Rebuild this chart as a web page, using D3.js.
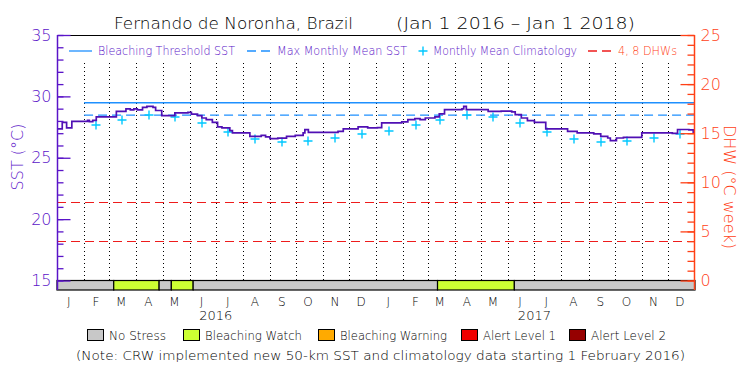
<!DOCTYPE html>
<html>
<head>
<meta charset="utf-8">
<script src="https://cdn.jsdelivr.net/npm/d3@7"></script>
<style>
body { margin: 0; background: #fff; }
svg { display: block; font-family: "DejaVu Sans", sans-serif; }
svg text { font-weight: 200; }
</style>
</head>
<body>
<svg id="chart" width="750" height="375"></svg>
<script>
// daily SST (at each visible step)
var sstDates = ["2016-01-01","2016-01-05","2016-01-07","2016-01-09","2016-01-12","2016-01-18","2016-02-02","2016-02-05","2016-02-07","2016-02-11","2016-02-15","2016-03-06","2016-03-09","2016-03-20","2016-03-25","2016-03-29","2016-04-02","2016-04-08","2016-04-13","2016-04-20","2016-04-23","2016-04-30","2016-05-09","2016-05-15","2016-05-30","2016-06-03","2016-06-10","2016-06-15","2016-06-20","2016-06-27","2016-07-03","2016-07-08","2016-07-15","2016-07-17","2016-07-20","2016-08-06","2016-08-09","2016-08-18","2016-08-22","2016-08-27","2016-09-01","2016-09-10","2016-09-20","2016-09-30","2016-10-09","2016-10-11","2016-10-15","2016-11-11","2016-11-18","2016-11-24","2016-12-11","2016-12-22","2016-12-30","2017-01-02","2017-01-07","2017-01-30","2017-02-06","2017-02-14","2017-02-20","2017-02-26","2017-03-09","2017-03-14","2017-03-20","2017-04-04","2017-04-09","2017-04-11","2017-04-14","2017-05-05","2017-05-09","2017-05-24","2017-06-05","2017-06-09","2017-06-16","2017-06-23","2017-07-01","2017-07-09","2017-07-14","2017-07-31","2017-08-08","2017-08-19","2017-09-07","2017-09-15","2017-09-23","2017-09-26","2017-10-03","2017-10-11","2017-10-28","2017-11-01","2017-12-02","2017-12-06","2017-12-12","2017-12-25","2017-12-30","2018-01-01"];
var sstValues = [27.35,27.35,27.89,27.89,27.43,27.97,27.97,28.05,27.95,28.05,28.33,28.33,28.78,28.98,28.9,28.98,28.9,29.1,29.19,29.1,28.85,28.43,28.43,28.65,28.7,28.55,28.43,28.24,28.1,27.89,27.51,27.43,27.43,27.21,27.02,27.02,26.74,26.74,26.83,26.7,26.56,26.6,26.74,26.83,27.02,27.29,27.07,27.07,27.15,27.35,27.51,27.43,27.43,27.45,27.84,27.92,28.1,28.19,28.1,28.24,28.33,28.57,28.92,28.92,28.98,29.19,28.92,28.92,28.78,28.8,28.73,28.51,28.24,28.02,27.89,27.89,27.35,27.35,27.15,27.02,26.94,26.74,26.61,26.4,26.61,26.66,26.66,27.02,27.02,26.98,27.3,27.27,27.07,27.07];

// monthly mean climatology, Jan..Dec
var climMonths = ["J","F","M","A","M","J","J","A","S","O","N","D"];
var climValues = [27.2,27.67,28.09,28.51,28.33,27.8,27.08,26.53,26.28,26.36,26.61,26.96];
var climStart = "2016-02-01";

var mmm = 28.48;
var threshold = 29.48;
var dhwLevels = [4, 8];
var newDataStart = "2016-02-01";

// bleaching alert area periods
var alertStart = ["2016-01-01","2016-03-06","2016-04-27","2016-05-11","2016-06-05","2017-03-12","2017-06-08"];
var alertEnd   = ["2016-03-06","2016-04-27","2016-05-11","2016-06-05","2017-03-12","2017-06-08","2018-01-01"];
var alertLevel = [0,1,0,1,0,1,0];

var legendNames = ["No Stress","Bleaching Watch","Bleaching Warning","Alert Level 1","Alert Level 2"];
var legendColors = ["#c8c8c8","#ccff33","#ffaa00","#f00000","#960000"];
var years = [2016, 2017];

var parse = d3.utcParse("%Y-%m-%d");
var svg = d3.select("#chart");

var purple = "#5a14c8",
	lineColor = "#5010b4",
	orange = "#ff4016",
	blue = "#1e90ff",
	cyan = "#00c8ff";

var x = d3.scaleUtc()
	.domain([Date.UTC(2016, 0, 1), Date.UTC(2018, 0, 1)])
	.range([57, 695]);
var y = d3.scaleLinear().domain([15, 35]).range([280.5, 35]);
var yDhw = d3.scaleLinear().domain([0, 25]).range([280.5, 35]);

// month dotted lines
var monthStarts = d3.utcMonth.range(Date.UTC(2016, 1, 1), Date.UTC(2018, 0, 1));
svg.append("g")
	.selectAll("line")
	.data(monthStarts)
	.enter()
	.append("line")
	.attr("x1", function(d) { return Math.round(x(d)) + 0.5; })
	.attr("x2", function(d) { return Math.round(x(d)) + 0.5; })
	.attr("y1", 63)
	.attr("y2", 280)
	.attr("stroke", "#000")
	.attr("stroke-dasharray", "1,3");

// DHW reference lines
svg.append("g")
	.selectAll("line")
	.data(dhwLevels)
	.enter()
	.append("line")
	.attr("x1", 57)
	.attr("x2", 695)
	.attr("y1", function(d) { return Math.round(yDhw(d)) + 0.5; })
	.attr("y2", function(d) { return Math.round(yDhw(d)) + 0.5; })
	.attr("stroke", "#ee1c1c")
	.attr("stroke-dasharray", "9,5");

// threshold and MMM
svg.append("line")
	.attr("x1", x(parse(newDataStart))).attr("x2", 695)
	.attr("y1", y(threshold)).attr("y2", y(threshold))
	.attr("stroke", blue).attr("stroke-width", 1.3);
svg.append("line")
	.attr("x1", x(parse(newDataStart))).attr("x2", 695)
	.attr("y1", y(mmm)).attr("y2", y(mmm))
	.attr("stroke", blue).attr("stroke-width", 1.3)
	.attr("stroke-dasharray", "9,5");

// climatology crosses at mid-month
var climData = [];
d3.utcMonth.range(parse(climStart), Date.UTC(2018, 0, 1)).forEach(function(m) {
	climData.push({ date: d3.utcDay.offset(m, 14), value: climValues[m.getUTCMonth()] });
});
svg.append("g")
	.selectAll("path")
	.data(climData)
	.enter()
	.append("path")
	.attr("d", function(d) {
		var cx = Math.round(x(d.date)), cy = Math.round(y(d.value));
		return "M" + (cx - 4.5) + "," + cy + "H" + (cx + 4.5) + "M" + cx + "," + (cy - 4.5) + "V" + (cy + 4.5);
	})
	.attr("stroke", cyan)
	.attr("stroke-width", 1.4);

// SST line
var sstData = sstDates.map(function(d, i) { return { date: parse(d), value: sstValues[i] }; });
svg.append("path")
	.datum(sstData)
	.attr("fill", "none")
	.attr("stroke", lineColor)
	.attr("stroke-width", 1.7)
	.attr("d", d3.line()
		.x(function(d) { return x(d.date); })
		.y(function(d) { return y(d.value); })
		.curve(d3.curveStepAfter));

// alert bar
svg.append("g")
	.selectAll("rect")
	.data(alertStart)
	.enter()
	.append("rect")
	.attr("x", function(d) { return x(parse(d)); })
	.attr("width", function(d, i) { return x(parse(alertEnd[i])) - x(parse(d)); })
	.attr("y", 280.5)
	.attr("height", 9.5)
	.attr("fill", function(d, i) { return legendColors[alertLevel[i]]; })
	.attr("stroke", "#000")
	.attr("stroke-width", 1.2);

// frame top
svg.append("line")
	.attr("x1", 57).attr("x2", 695).attr("y1", 35.5).attr("y2", 35.5)
	.attr("stroke", "#000").attr("stroke-width", 1.2);

// left axis
var majorSst = d3.range(15, 36, 5), minorSst = d3.range(15, 36, 1);
var leftMinor = svg.append("g").attr("transform", "translate(57.5,0)")
	.call(d3.axisLeft(y).tickValues(minorSst).tickSize(-6).tickSizeOuter(0).tickFormat(""));
var leftMajor = svg.append("g").attr("transform", "translate(57.5,0)")
	.call(d3.axisLeft(y).tickValues(majorSst).tickSize(-13).tickSizeOuter(0).tickPadding(6));
[leftMinor, leftMajor].forEach(function(g) {
	g.select(".domain").remove();
	g.selectAll("line").attr("stroke", purple).attr("stroke-width", 1.3);
	g.selectAll("text").attr("fill", purple).attr("font-size", 16).attr("font-family", "DejaVu Sans");
});
svg.append("line").attr("x1", 57.5).attr("x2", 57.5).attr("y1", 35).attr("y2", 290)
	.attr("stroke", purple).attr("stroke-width", 1.5);

// right axis
var majorDhw = d3.range(0, 26, 5), minorDhw = d3.range(0, 26, 1);
var rightMinor = svg.append("g").attr("transform", "translate(694.5,0)")
	.call(d3.axisRight(yDhw).tickValues(minorDhw).tickSize(-7).tickSizeOuter(0).tickFormat(""));
var rightMajor = svg.append("g").attr("transform", "translate(694.5,0)")
	.call(d3.axisRight(yDhw).tickValues(majorDhw).tickSize(-14).tickSizeOuter(0).tickPadding(6));
[rightMinor, rightMajor].forEach(function(g) {
	g.select(".domain").remove();
	g.selectAll("line").attr("stroke", orange).attr("stroke-width", 1.3);
	g.selectAll("text").attr("fill", orange).attr("font-size", 16).attr("font-family", "DejaVu Sans");
});
svg.append("line").attr("x1", 694.5).attr("x2", 694.5).attr("y1", 35).attr("y2", 290)
	.attr("stroke", orange).attr("stroke-width", 1.5);

// month letters
var monthMids = d3.utcMonth.range(Date.UTC(2016, 0, 1), Date.UTC(2018, 0, 1)).map(function(m) {
	return d3.utcDay.offset(m, 13);
});
var bottom = svg.append("g").attr("transform", "translate(0,290)")
	.call(d3.axisBottom(x).tickValues(monthMids).tickSize(0).tickPadding(7)
		.tickFormat(function(d) { return climMonths[d.getUTCMonth()]; }));
bottom.select(".domain").remove();
bottom.selectAll("text").attr("fill", "#000").attr("font-size", 12).attr("font-family", "DejaVu Sans");

svg.append("g")
	.selectAll("text")
	.data(years)
	.enter()
	.append("text")
	.attr("x", function(d) { return x(Date.UTC(d, 6, 1)); })
	.attr("y", 320)
	.attr("text-anchor", "middle")
	.attr("font-size", 13)
	.text(function(d) { return d; });

// titles
svg.append("text").attr("x", 114).attr("y", 29).attr("font-size", 16)
	.attr("textLength", 239).attr("lengthAdjust", "spacingAndGlyphs")
	.text("Fernando de Noronha, Brazil");
svg.append("text").attr("x", 396).attr("y", 29).attr("font-size", 16)
	.attr("textLength", 239).attr("lengthAdjust", "spacingAndGlyphs")
	.text("(Jan 1 2016 \u2013 Jan 1 2018)");

svg.append("text")
	.attr("transform", "translate(23,157) rotate(-90)")
	.attr("text-anchor", "middle")
	.attr("font-size", 16)
	.attr("fill", purple)
	.text("SST (\u00b0C)");
svg.append("text")
	.attr("transform", "translate(724,187) rotate(90)")
	.attr("text-anchor", "middle")
	.attr("font-size", 16)
	.attr("fill", orange)
	.text("DHW (\u00b0C week)");

// top legend
var lg = svg.append("g").attr("font-size", 12);
lg.append("line").attr("x1", 69).attr("x2", 92).attr("y1", 51).attr("y2", 51).attr("stroke", blue).attr("stroke-width", 1.3);
lg.append("text").attr("x", 98).attr("y", 55).attr("fill", purple)
	.attr("textLength", 137).attr("lengthAdjust", "spacingAndGlyphs").text("Bleaching Threshold SST");
lg.append("line").attr("x1", 247).attr("x2", 270).attr("y1", 51).attr("y2", 51).attr("stroke", blue)
	.attr("stroke-width", 1.3).attr("stroke-dasharray", "9,5");
lg.append("text").attr("x", 277).attr("y", 55).attr("fill", purple)
	.attr("textLength", 130).attr("lengthAdjust", "spacingAndGlyphs").text("Max Monthly Mean SST");
lg.append("path").attr("d", "M418.5,51H427.5M423,46.5V55.5").attr("stroke", cyan).attr("stroke-width", 1.4);
lg.append("text").attr("x", 433).attr("y", 55).attr("fill", purple)
	.attr("textLength", 144).attr("lengthAdjust", "spacingAndGlyphs").text("Monthly Mean Climatology");
lg.append("line").attr("x1", 588).attr("x2", 612).attr("y1", 51).attr("y2", 51).attr("stroke", "#ee1c1c")
	.attr("stroke-width", 1.3).attr("stroke-dasharray", "9,5");
lg.append("text").attr("x", 618).attr("y", 55).attr("fill", orange)
	.attr("textLength", 59).attr("lengthAdjust", "spacingAndGlyphs").text("4, 8 DHWs");

// bottom legend
var boxX = [87, 183, 318, 461, 569];
var textW = [57, 97, 107, 73, 75];
var bl = svg.append("g").selectAll("g").data(legendNames).enter().append("g");
bl.append("rect")
	.attr("x", function(d, i) { return boxX[i] + 0.5; })
	.attr("y", 329.5)
	.attr("width", 16)
	.attr("height", 11)
	.attr("fill", function(d, i) { return legendColors[i]; })
	.attr("stroke", "#000");
bl.append("text")
	.attr("x", function(d, i) { return boxX[i] + 22; })
	.attr("y", 340)
	.attr("font-size", 13)
	.attr("textLength", function(d, i) { return textW[i]; })
	.attr("lengthAdjust", "spacingAndGlyphs")
	.text(function(d) { return d; });

svg.append("text").attr("x", 76).attr("y", 360).attr("font-size", 13)
	.attr("textLength", 609).attr("lengthAdjust", "spacingAndGlyphs")
	.text("(Note: CRW implemented new 50-km SST and climatology data starting 1 February 2016)");
</script>
</body>
</html>
